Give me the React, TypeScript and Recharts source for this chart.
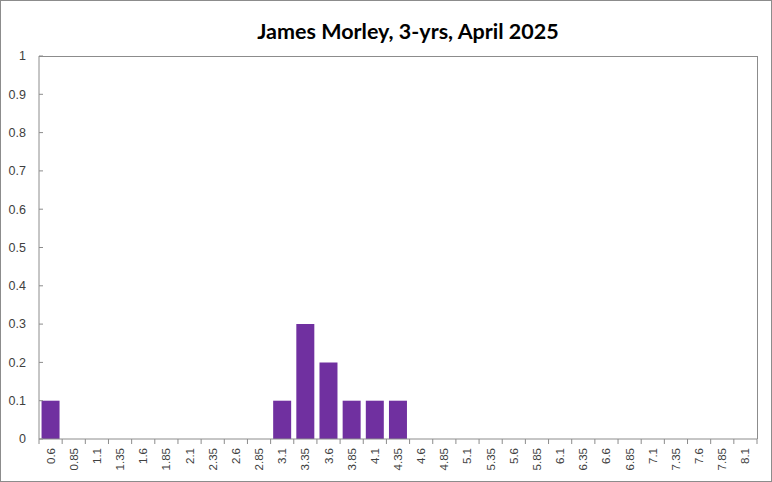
import React from 'react';
import { BarChart, Bar, XAxis, YAxis } from 'recharts';

const TITLE = 'James Morley, 3-yrs, April 2025';

const categories = [
  '0.6', '0.85', '1.1', '1.35', '1.6', '1.85', '2.1', '2.35', '2.6', '2.85',
  '3.1', '3.35', '3.6', '3.85', '4.1', '4.35', '4.6', '4.85', '5.1', '5.35',
  '5.6', '5.85', '6.1', '6.35', '6.6', '6.85', '7.1', '7.35', '7.6', '7.85', '8.1',
];

const shares = [
  0.1, 0, 0, 0, 0, 0, 0, 0, 0, 0,
  0.1, 0.3, 0.2, 0.1, 0.1, 0.1, 0, 0, 0, 0,
  0, 0, 0, 0, 0, 0, 0, 0, 0, 0, 0,
];

const yTicks = [0, 0.1, 0.2, 0.3, 0.4, 0.5, 0.6, 0.7, 0.8, 0.9, 1];

const data = categories.map((c, i) => ({ bin: c, share: shares[i] }));

// plot box in chart coords (the chart sits inside a 1px border)
const W = 770;
const H = 480;
const PLOT_LEFT = 38;
const PLOT_RIGHT = 756;
const PLOT_TOP = 55;
const PLOT_BOTTOM = 438;
const BAND = (PLOT_RIGHT - PLOT_LEFT) / categories.length;
const AXIS = '#8c8c8c';
const TEXT = '#404040';

const YTick = ({ y, payload }: any) => (
  <g>
    <line x1={PLOT_LEFT} x2={PLOT_LEFT + 4} y1={y} y2={y} stroke={AXIS} />
    <text x={PLOT_LEFT - 13} y={y} dy="0.35em" textAnchor="end" fontSize={12.5} fill={TEXT}
      fontFamily="'Liberation Sans', Arial, sans-serif">
      {payload.value}
    </text>
  </g>
);

const XTick = ({ x, payload, index }: any) => {
  const left = x - BAND / 2;
  const ty = PLOT_BOTTOM + 9;
  return (
    <g>
      <line x1={left} x2={left} y1={PLOT_BOTTOM} y2={PLOT_BOTTOM + 5} stroke={AXIS} />
      {index === categories.length - 1 && (
        <line x1={x + BAND / 2} x2={x + BAND / 2} y1={PLOT_BOTTOM} y2={PLOT_BOTTOM + 5} stroke={AXIS} />
      )}
      <text x={x} y={ty} dy="0.35em" textAnchor="end" fontSize={11.5} fill={TEXT}
        transform={`rotate(-90, ${x}, ${ty})`}
        fontFamily="'Liberation Sans', Arial, sans-serif">
        {payload.value}
      </text>
    </g>
  );
};

export default function App() {
  return (
    <div style={{ position: 'fixed', left: 0, top: 0, width: 772, height: 482, boxSizing: 'border-box', border: `1px solid ${AXIS}`, background: '#fff' }}>
      <div style={{ position: 'absolute', left: 0, width: W, top: 15, textAlign: 'center', paddingLeft: 44, boxSizing: 'border-box',
        fontFamily: 'Lato, sans-serif', fontWeight: 700, fontSize: 21.5, color: '#000', lineHeight: '30px' }}>
        {TITLE}
      </div>
      <BarChart width={W} height={H} data={data} barCategoryGap="11%"
        margin={{ top: PLOT_TOP, right: W - PLOT_RIGHT, bottom: 0, left: 0 }}>
        <XAxis dataKey="bin" interval={0} height={H - PLOT_BOTTOM} tickLine={false}
          axisLine={{ stroke: AXIS }} tick={<XTick />} />
        <YAxis width={PLOT_LEFT} domain={[0, 1]} ticks={yTicks} interval={0} tickLine={false}
          axisLine={{ stroke: AXIS }} tick={<YTick />} />
        <Bar dataKey="share" fill="#7030A0" isAnimationActive={false} />
      </BarChart>
      {/* top and right edges of the plot box */}
      <div style={{ position: 'absolute', left: PLOT_LEFT, top: PLOT_TOP - 0.5, width: PLOT_RIGHT - PLOT_LEFT + 0.5, height: PLOT_BOTTOM - PLOT_TOP + 0.5,
        boxSizing: 'border-box', borderTop: `1px solid ${AXIS}`, borderRight: `1px solid ${AXIS}`, pointerEvents: 'none' }} />
    </div>
  );
}
